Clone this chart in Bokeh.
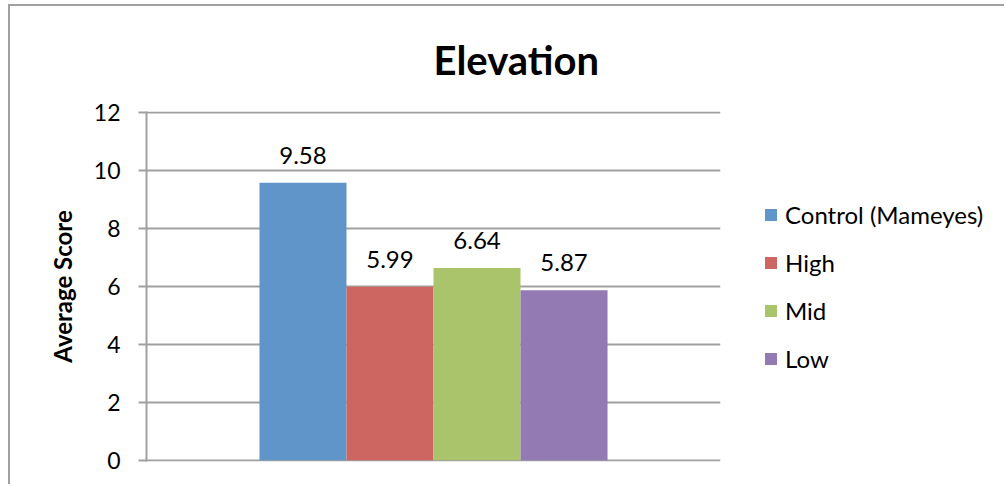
from bokeh.plotting import figure
from bokeh.layouts import row
from bokeh.models import (Range1d, FactorRange, ColumnDataSource, Legend, LegendItem,
                          LabelSet, FixedTicker)
from bokeh.core.properties import value
from bokeh.transform import dodge
from bokeh.embed import file_html
from bokeh.resources import INLINE

# ---- data ----
chart_title = "Elevation"
group = ["Elevation"]
series = ["Control (Mameyes)", "High", "Mid", "Low"]
values = [9.58, 5.99, 6.64, 5.87]
colors = ["#5f95c9", "#cd6660", "#a9c46b", "#937ab2"]
y_ticks = [0, 2, 4, 6, 8, 10, 12]
y_label = "Average Score"

FONT = "Lato"
GRID = "#a0a0a0"
BAR_W = 0.1516
offsets = [(i - 1.5) * BAR_W for i in range(len(series))]

p = figure(width=712, height=478,
           x_range=FactorRange(factors=group),
           y_range=Range1d(-0.04, 12.04),
           output_backend="svg", toolbar_location=None,
           min_border_left=136, min_border_right=2,
           min_border_top=104, min_border_bottom=23)
p.outline_line_color = None
p.background_fill_color = "white"
p.border_fill_color = "white"

p.title.text = chart_title
p.title.align = "left"
p.title.offset = 287
p.title.standoff = 55
p.title.text_font = FONT
p.title.text_font_size = "40px"
p.title.text_font_style = "bold"
p.title.text_color = "black"

for s, v, c, off in zip(series, values, colors, offsets):
    src = ColumnDataSource(dict(x=group, top=[v], label=[f"{v:.2f}"]))
    p.vbar(x=dodge("x", off, range=p.x_range), top="top", bottom=0, width=BAR_W,
           source=src, fill_color=c, line_color=None)
    p.add_layout(LabelSet(x=dodge("x", off, range=p.x_range), y="top", text="label",
                          source=src, text_align="center", text_baseline="alphabetic",
                          y_offset=19, text_font=value(FONT), text_font_size="24px",
                          text_color="black"))

p.xaxis.visible = False
p.xgrid.visible = False
p.ygrid.grid_line_color = GRID
p.ygrid.grid_line_width = 2

yax = p.yaxis[0]
yax.ticker = FixedTicker(ticks=y_ticks)
yax.axis_line_color = GRID
yax.axis_line_width = 2
yax.major_tick_line_color = GRID
yax.major_tick_line_width = 2
yax.major_tick_out = 8
yax.major_tick_in = 0
yax.minor_tick_line_color = None
yax.major_label_standoff = 18
yax.major_label_text_font = FONT
yax.major_label_text_font_size = "23px"
yax.major_label_text_color = "black"
yax.axis_label = y_label
yax.axis_label_text_font = FONT
yax.axis_label_text_font_size = "24px"
yax.axis_label_text_font_style = "bold"
yax.axis_label_text_color = "black"
yax.axis_label_standoff = 14

# ---- legend panel (separate figure to the right) ----
lf = figure(width=282, height=478, output_backend="svg", toolbar_location=None,
            min_border=0, x_range=Range1d(0, 1), y_range=Range1d(0, 1))
lf.axis.visible = False
lf.grid.visible = False
lf.outline_line_color = None
lf.background_fill_color = "white"
lf.border_fill_color = "white"

items = []
for s, c in zip(series, colors):
    # zero-size proxy renderer, only used for its legend swatch
    r = lf.vbar(x=[0], top=[0], bottom=0, width=0, fill_color=c, line_color=None)
    items.append(LegendItem(label=s, renderers=[r]))

legend = Legend(items=items, location=(41, 88), orientation="vertical",
                glyph_width=15, glyph_height=15, spacing=19,
                padding=0, margin=0, border_line_color=None, background_fill_alpha=0,
                label_text_font=FONT, label_text_font_size="24px",
                label_text_color="black", label_standoff=7)
lf.add_layout(legend)

layout = row(p, lf, spacing=0)
layout.styles = {"margin-left": "8px", "margin-top": "4px",
                 "border-left": "2px solid #a0a0a0", "border-top": "2px solid #a0a0a0"}

open("out.html", "w").write(file_html(layout, INLINE))
